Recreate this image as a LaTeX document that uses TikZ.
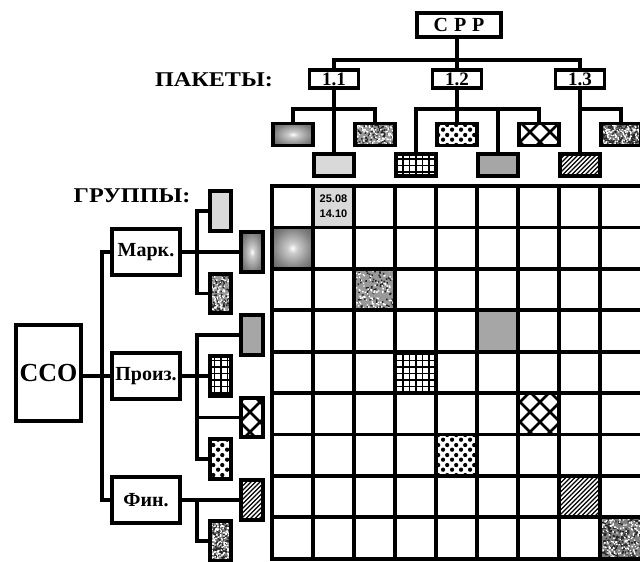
\documentclass[tikz,border=0pt]{standalone}
\usepackage{fontspec}
\setmainfont{Liberation Serif}
\newfontfamily\datefont{Liberation Sans}
\usetikzlibrary{patterns,calc}

% fill patterns of the groups
\pgfdeclarepatternformonly{spots}{\pgfqpoint{0pt}{0pt}}{\pgfqpoint{9pt}{10pt}}{\pgfqpoint{9pt}{10pt}}{%
  \pgfpathcircle{\pgfqpoint{2.25pt}{2.5pt}}{2.3pt}%
  \pgfpathcircle{\pgfqpoint{6.75pt}{7.5pt}}{2.3pt}%
  \pgfusepath{fill}}
\pgfdeclarepatternformonly{lattice}{\pgfqpoint{-1pt}{-1pt}}{\pgfqpoint{21pt}{21pt}}{\pgfqpoint{20pt}{20pt}}{%
  \pgfsetlinewidth{2.8pt}%
  \pgfpathmoveto{\pgfqpoint{-1pt}{-1pt}}\pgfpathlineto{\pgfqpoint{21pt}{21pt}}%
  \pgfpathmoveto{\pgfqpoint{-1pt}{21pt}}\pgfpathlineto{\pgfqpoint{21pt}{-1pt}}%
  \pgfusepath{stroke}}
\pgfdeclarepatternformonly{mesh}{\pgfqpoint{-1pt}{-1pt}}{\pgfqpoint{7.5pt}{7.5pt}}{\pgfqpoint{6.5pt}{6.5pt}}{%
  \pgfsetlinewidth{1.6pt}%
  \pgfpathmoveto{\pgfqpoint{0pt}{-1pt}}\pgfpathlineto{\pgfqpoint{0pt}{7.5pt}}%
  \pgfpathmoveto{\pgfqpoint{-1pt}{0pt}}\pgfpathlineto{\pgfqpoint{7.5pt}{0pt}}%
  \pgfusepath{stroke}}
\pgfdeclarepatternformonly{slant}{\pgfqpoint{-1pt}{-1pt}}{\pgfqpoint{5pt}{5pt}}{\pgfqpoint{4.5pt}{4.5pt}}{%
  \pgfsetlinewidth{1.3pt}%
  \pgfpathmoveto{\pgfqpoint{0pt}{0pt}}\pgfpathlineto{\pgfqpoint{4.6pt}{4.6pt}}%
  \pgfusepath{stroke}}
\pgfdeclareradialshading{glow}{\pgfpoint{0bp}{0bp}}{color(0bp)=(white); color(6bp)=(black!20); color(24bp)=(black!50); color(45bp)=(black!75); color(70bp)=(black!85)}

\tikzset{
  noise/.style n args={3}{fill=#1, path picture={
    \fill[black!85] let \p1=(path picture bounding box.south west), \p2=(path picture bounding box.north east) in
      foreach \k in {1,...,#2} {({\x1+rnd*(\x2-\x1)},{\y1+rnd*(\y2-\y1)}) rectangle ++(1.6,1.6)};
    \fill[white] let \p1=(path picture bounding box.south west), \p2=(path picture bounding box.north east) in
      foreach \k in {1,...,#3} {({\x1+rnd*(\x2-\x1)},{\y1+rnd*(\y2-\y1)}) rectangle ++(1.4,1.4)};
  }},
  pale/.style={fill=black!15},
  dim/.style={fill=black!35},
  glow/.style={shade, shading=glow},
  marble/.style={noise={black!40}{110}{110}},
  grain/.style={noise={black!50}{260}{170}},
  mesh/.style={pattern=mesh},
  lattice/.style={pattern=lattice},
  spots/.style={pattern=spots},
  slant/.style={pattern=slant},
}

\begin{document}
\begin{tikzpicture}[x=1pt,y=-1pt,
  wire/.style={line width=3.8pt},
  box/.style={draw, line width=3.8pt, fill=white, inner sep=0pt, font=\bfseries\fontsize{20}{20}\selectfont},
  pkg/.style={box, minimum width=49, minimum height=18.5, font=\bfseries\fontsize{19}{19}\selectfont},
  grp/.style={box, minimum width=68, minimum height=46},
  htile/.style={draw, line width=3.8pt, inner sep=0pt, minimum width=40, minimum height=22},
  vtile/.style={draw, line width=3.8pt, inner sep=0pt, minimum width=21.5, minimum height=39.5},
  heading/.style={font=\bfseries\fontsize{21}{21}\selectfont}]
\useasboundingbox (0,0) rectangle (640,562);
\clip (0,0) rectangle (640,562);
\pgfmathsetseed{5}

% packages
\node[box, minimum width=84, minimum height=24.5] (srp) at (459,25) {С\hspace{6pt}Р\hspace{6pt}Р};
\node[pkg] (p11) at (334,79) {1.1};
\node[pkg] (p12) at (457,79) {1.2};
\node[pkg] (p13) at (580,79) {1.3};
\node[heading] (lblpk) at (214,80) {\scalebox{1.15}[1]{ПАКЕТЫ:}};

\node[htile, glow] (t0) at (293,134.5) {};
\node[htile, pale] (t1) at (334,165) {};
\node[htile, marble] (t2) at (375,134.5) {};
\node[htile, mesh] (t3) at (416,165) {};
\node[htile, spots] (t4) at (457,134.5) {};
\node[htile, dim] (t5) at (498,165) {};
\node[htile, lattice] (t6) at (539,134.5) {};
\node[htile, slant] (t7) at (580,165) {};
\node[htile, grain] (t8) at (621,134.5) {};

\coordinate (pbar) at (0,60);
\coordinate (tbar) at (0,109);
\draw[wire] (p12.north) -- (p12.north |- srp.south);
\draw[wire] (p11.north) -- (p11.north |- pbar) -| (p13.north);
\draw[wire] (t0.north) -- (t0.north |- tbar) -| (t2.north);
\draw[wire] (p11.south) -- (t1.north);
\draw[wire] (t3.north) -- (t3.north |- tbar) -| (t6.north);
\draw[wire] (p12.south) -- (t4.north);
\draw[wire] (t5.north) -- (t5.north |- tbar);
\draw[wire] (p13.south) -- (t7.north);
\draw[wire] (p13.south |- tbar) -| (t8.north);

% groups
\node[box, minimum width=65.5, minimum height=95.5, font=\bfseries\fontsize{26}{26}\selectfont] (cco) at (48.5,373) {ССО};
\node[grp] (mark) at (146,252) {Марк.};
\node[grp] (proiz) at (146,376) {Произ.};
\node[grp] (fin) at (146,500) {Фин.};
\node[heading] (lblgr) at (132,196) {\scalebox{1.15}[1]{ГРУППЫ:}};

\node[vtile, pale] (g0) at (220.5,211) {};
\node[vtile, glow] (g1) at (252,252) {};
\node[vtile, marble] (g2) at (220.5,293.5) {};
\node[vtile, dim] (g3) at (252,335) {};
\node[vtile, mesh] (g4) at (220.5,376) {};
\node[vtile, lattice] (g5) at (252,417.5) {};
\node[vtile, spots] (g6) at (220.5,459) {};
\node[vtile, slant] (g7) at (252,500) {};
\node[vtile, grain] (g8) at (220.5,541) {};

\coordinate (trunk) at (102,0);
\coordinate (mbar) at (197,0);
\draw[wire] (mark.west) -- (mark.west -| trunk) -- (fin.west -| trunk) -- (fin.west);
\draw[wire] (cco.east |- proiz.west) -- (proiz.west);
\draw[wire] (mark.east) -- (g1.west);
\draw[wire] (g0.west) -- (g0.west -| mbar) -- (g2.west -| mbar) -- (g2.west);
\draw[wire] (proiz.east) -- (g4.west);
\draw[wire] (g3.west) -- (g3.west -| mbar) -- (g6.west -| mbar) -- (g6.west);
\draw[wire] (g5.west -| mbar) -- (g5.west);
\draw[wire] (fin.east) -- (g7.west);
\draw[wire] (fin.east -| mbar) -- (g8.west -| mbar) -- (g8.west);

% matrix
\fill[pale] (313,186) rectangle (354,227.4);
\fill[glow] (272,227.4) rectangle (313,268.8);
\fill[marble] (354,268.8) rectangle (395,310.2);
\fill[dim] (477,310.2) rectangle (518,351.6);
\fill[mesh] (395,351.6) rectangle (436,393);
\fill[lattice] (518,393) rectangle (559,434.4);
\fill[spots] (436,434.4) rectangle (477,475.8);
\fill[slant] (559,475.8) rectangle (600,517.2);
\fill[grain] (600,517.2) rectangle (641,558.6);
\foreach \i in {0,...,8}
  \draw[wire, line cap=rect] ({272+41*\i},186) -- ({272+41*\i},558.6);
\foreach \j in {0,...,9}
  \draw[wire, line cap=rect] (272,{186+41.4*\j}) -- (641,{186+41.4*\j});
\node[align=center, font=\datefont\bfseries\fontsize{11}{15}\selectfont] (date) at (333.5,206.7) {25.08\\14.10};
\end{tikzpicture}
\end{document}
